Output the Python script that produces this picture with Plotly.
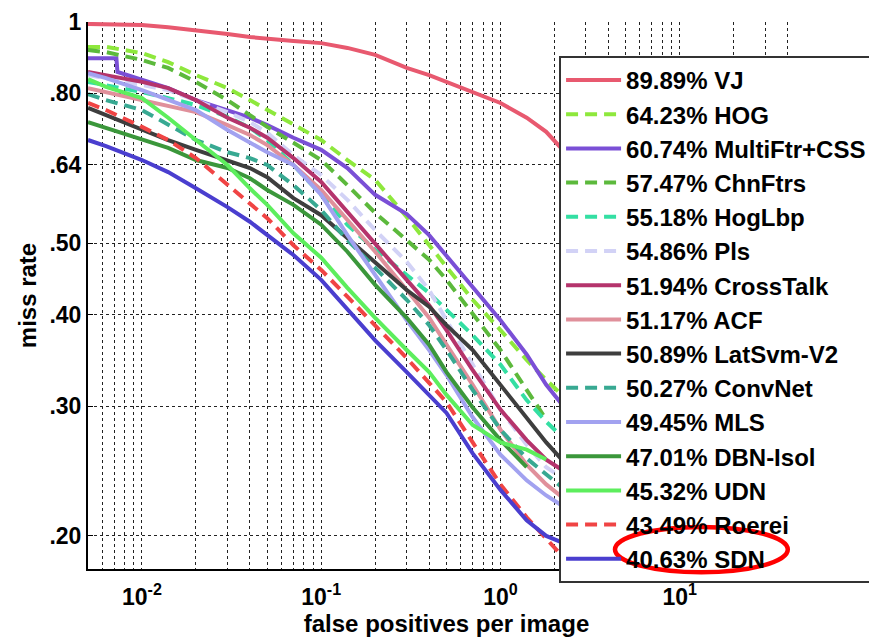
import math
import plotly.graph_objects as go

# ---------------- data ----------------
FPPI = [0.005, 0.0063, 0.01, 0.014, 0.02, 0.03, 0.04, 0.05, 0.07, 0.1, 0.14,
        0.2, 0.3, 0.4, 0.5, 0.7, 1.0, 1.4, 1.8, 2.2]
FPPI_MULTIFTR = [0.005, 0.0063, 0.0072, 0.0073, 0.01, 0.014, 0.02, 0.03, 0.04,
                 0.05, 0.07, 0.1, 0.14, 0.2, 0.3, 0.4, 0.5, 0.7, 1.0, 1.4, 1.8, 2.2]

VJ = [0.994, 0.994, 0.991, 0.984, 0.975, 0.963, 0.954, 0.948, 0.942, 0.936, 0.922,
      0.902, 0.866, 0.847, 0.829, 0.803, 0.776, 0.741, 0.709, 0.672]
HOG = [0.925, 0.925, 0.907, 0.882, 0.847, 0.813, 0.783, 0.759, 0.724, 0.691, 0.649,
       0.610, 0.543, 0.497, 0.463, 0.419, 0.381, 0.347, 0.326, 0.311]
MULTIFTR_CSS = [0.893, 0.893, 0.893, 0.855, 0.834, 0.813, 0.783, 0.759, 0.741, 0.724,
                0.696, 0.670, 0.633, 0.582, 0.548, 0.513, 0.481, 0.435, 0.393, 0.353,
                0.321, 0.302]
CHNFTRS = [0.916, 0.910, 0.888, 0.866, 0.829, 0.783, 0.747, 0.720, 0.685, 0.649, 0.600,
           0.550, 0.505, 0.475, 0.446, 0.400, 0.358, 0.316, 0.288, None]
HOGLBP = [0.829, 0.821, 0.803, 0.788, 0.771, 0.743, 0.718, 0.691, 0.639, 0.582, 0.530,
          0.490, 0.453, 0.428, 0.406, 0.375, 0.342, 0.306, 0.286, 0.273]
PLS = [0.847, 0.839, 0.821, 0.808, 0.783, 0.754, 0.731, 0.707, 0.659, 0.619, 0.573,
       0.521, 0.472, 0.432, 0.393, 0.342, 0.297, 0.266, 0.248, 0.240]
CROSSTALK = [0.855, 0.847, 0.829, 0.813, 0.783, 0.741, 0.718, 0.696, 0.653, 0.606, 0.551,
             0.500, 0.446, 0.412, 0.381, 0.336, 0.297, 0.270, 0.254, 0.246]
ACF = [0.813, 0.803, 0.783, 0.771, 0.754, 0.724, 0.702, 0.680, 0.639, 0.591, 0.538,
       0.487, 0.432, 0.396, 0.364, 0.321, 0.279, 0.250, 0.235, 0.226]
LATSVM_V2 = [0.764, 0.747, 0.713, 0.691, 0.670, 0.647, 0.633, 0.615, 0.576, 0.546, 0.508,
             0.472, 0.432, 0.410, 0.387, 0.358, 0.321, 0.290, 0.268, 0.254]
CONVNET = [0.798, 0.783, 0.759, 0.724, 0.691, 0.665, 0.653, 0.639, 0.600, 0.555, 0.505,
           0.463, 0.419, 0.387, 0.358, 0.316, 0.279, 0.255, 0.242, 0.233]
MLS = [0.852, 0.839, 0.808, 0.783, 0.759, 0.713, 0.685, 0.665, 0.639, 0.582, 0.513,
       0.453, 0.393, 0.358, 0.331, 0.290, 0.258, 0.238, 0.227, 0.220]
DBN_ISOL = [0.731, 0.718, 0.694, 0.674, 0.649, 0.633, 0.613, 0.591, 0.564, 0.530, 0.487,
            0.439, 0.396, 0.364, 0.334, 0.299, 0.270, 0.248, None, None]
UDN = [0.836, 0.816, 0.788, 0.741, 0.691, 0.639, 0.594, 0.564, 0.516, 0.478, 0.435,
       0.396, 0.358, 0.334, 0.311, 0.283, 0.268, 0.262, 0.254, None]
ROEREI = [0.776, 0.759, 0.720, 0.691, 0.653, 0.600, 0.567, 0.541, 0.497, 0.460, 0.423,
          0.387, 0.349, 0.323, 0.304, 0.268, 0.235, 0.212, 0.198, 0.188]
SDN = [0.691, 0.678, 0.649, 0.625, 0.594, 0.560, 0.535, 0.513, 0.482, 0.446, 0.406,
       0.369, 0.334, 0.311, 0.294, 0.259, 0.231, 0.210, 0.200, 0.196]

LEGEND_LABELS = ["89.89% VJ", "64.23% HOG", "60.74% MultiFtr+CSS", "57.47% ChnFtrs",
                 "55.18% HogLbp", "54.86% Pls", "51.94% CrossTalk", "51.17% ACF",
                 "50.89% LatSvm-V2", "50.27% ConvNet", "49.45% MLS", "47.01% DBN-Isol",
                 "45.32% UDN", "43.49% Roerei", "40.63% SDN"]

Y_TICK_VALUES = [0.20, 0.30, 0.40, 0.50, 0.64, 0.80, 1.0]
Y_TICK_LABELS = [".20", ".30", ".40", ".50", ".64", ".80", "1"]
X_TICK_VALUES = [0.01, 0.1, 1, 10]
X_TICK_LABELS = ["10<sup>-2</sup>", "10<sup>-1</sup>", "10<sup>0</sup>", "10<sup>1</sup>"]
X_GRID_VALUES = [m * d for d in (0.001, 0.01, 0.1, 1, 10) for m in range(1, 10)
                 if 0.005 <= m * d <= 50]

# ---------------- styles ----------------
series = [
    (FPPI, VJ, "#E8596F", "solid"),
    (FPPI, HOG, "#8EE83C", "dash"),
    (FPPI_MULTIFTR, MULTIFTR_CSS, "#7A4FD6", "solid"),
    (FPPI, CHNFTRS, "#5CB93C", "dash"),
    (FPPI, HOGLBP, "#34DFA3", "dash"),
    (FPPI, PLS, "#D2D2F6", "dash"),
    (FPPI, CROSSTALK, "#B5346C", "solid"),
    (FPPI, ACF, "#E0909B", "solid"),
    (FPPI, LATSVM_V2, "#3E3E3E", "solid"),
    (FPPI, CONVNET, "#38A992", "dash"),
    (FPPI, MLS, "#A2A2F0", "solid"),
    (FPPI, DBN_ISOL, "#3B973B", "solid"),
    (FPPI, UDN, "#5DEE5D", "solid"),
    (FPPI, ROEREI, "#F04444", "dash"),
    (FPPI, SDN, "#4A3ECF", "solid"),
]

FONT = "Liberation Sans, Arial, sans-serif"

fig = go.Figure()
for (xs, ys, color, dash), label in zip(series, LEGEND_LABELS):
    fig.add_trace(go.Scatter(
        x=xs, y=ys, mode="lines", name=label,
        line=dict(color=color, width=4, dash="12px,7px" if dash == "dash" else "solid"),
        connectgaps=False,
    ))

grid_kw = dict(showgrid=True, gridcolor="#222222", gridwidth=1, griddash="dot")

fig.update_layout(
    width=877, height=640,
    # the page body adds an 8px offset, so margins are reduced by 8px on top/left
    margin=dict(l=80, r=80, t=14, b=79, autoexpand=False),
    paper_bgcolor="white", plot_bgcolor="white",
    font=dict(family=FONT, color="black"),
    showlegend=True,
    legend=dict(
        x=0.657, y=0.938, xanchor="left", yanchor="top",
        bgcolor="rgba(0,0,0,0)", bordercolor="#333333", borderwidth=2,
        font=dict(family=FONT, size=24, color="black", weight="bold"),
        itemwidth=55, tracegroupgap=0,
    ),
    xaxis=dict(
        type="log", range=[math.log10(0.005), math.log10(50)],
        tickmode="array", tickvals=X_TICK_VALUES, ticktext=X_TICK_LABELS,
        tickfont=dict(family=FONT, size=23, weight="bold"),
        ticks="", ticklabelstandoff=6,
        showline=True, linecolor="black", linewidth=2,
        minor=dict(tickmode="array", tickvals=X_GRID_VALUES, showgrid=True,
                   gridcolor="#222222", gridwidth=1, griddash="dot", ticks=""),
        zeroline=False,
        title=dict(text="false positives per image",
                   font=dict(family=FONT, size=24, weight="bold"), standoff=4),
        **grid_kw,
    ),
    yaxis=dict(
        type="log", range=[math.log10(0.1803), 0],
        tickmode="array", tickvals=Y_TICK_VALUES, ticktext=Y_TICK_LABELS,
        tickfont=dict(family=FONT, size=23, weight="bold"),
        ticks="inside", ticklen=5, tickcolor="black",
        showline=True, linecolor="black", linewidth=2,
        zeroline=False,
        title=dict(text="miss rate", font=dict(family=FONT, size=24, weight="bold"),
                   standoff=6),
        **grid_kw,
    ),
    shapes=[
        # opaque legend panel (covers curves/grid under the legend)
        dict(type="rect", xref="paper", yref="paper", x0=0.657, x1=1.2, y0=-0.004, y1=0.938,
             fillcolor="white", line=dict(width=0), layer="above"),
        # red highlight ellipse around the SDN legend entry
        dict(type="circle", xref="paper", yref="paper", x0=0.735, x1=0.976, y0=-0.006, y1=0.077,
             line=dict(color="#FF0000", width=4.5), fillcolor="rgba(0,0,0,0)", layer="above"),
    ],
)

fig.write_html("out.html")
